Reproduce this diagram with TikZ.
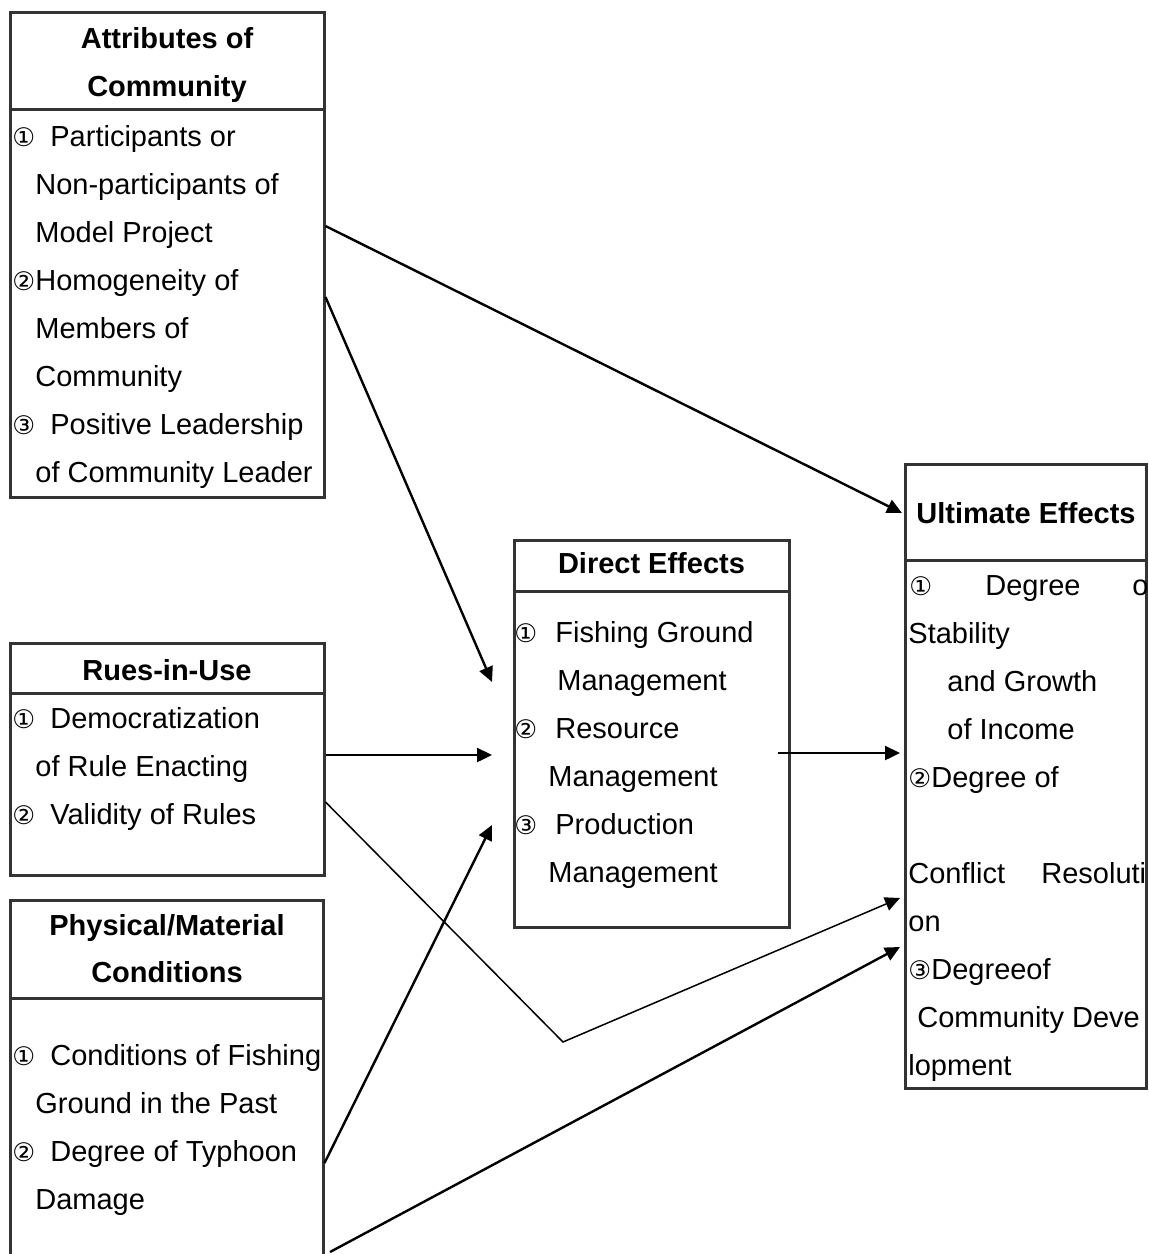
\documentclass[tikz,border=0pt]{standalone}
\usepackage{fontspec}
\setmainfont{Liberation Sans}
\newfontfamily\cf{DejaVu Sans}[Scale=0.88]
\usetikzlibrary{arrows.meta}
\tikzset{
  box/.style={draw=black!80,line width=1.5pt,rectangle,inner sep=0pt},
  rule/.style={draw=black!80,line width=1.5pt},
  head/.style={font=\fontsize{14.5}{24}\selectfont\bfseries,anchor=base,inner sep=0pt},
  item/.style={anchor=base west,inner sep=0pt},
  link/.style={-{Triangle[length=7.5pt,width=7pt]},line width=1.2pt},
  thinlink/.style={link,line width=0.75pt}
}

\begin{document}
\begin{tikzpicture}[x=0.5pt,y=-0.5pt,font=\fontsize{14.5}{24}\selectfont]
\clip (0,0) rectangle (1149,1254);

% boxes
\node (attr) [box,minimum width=157pt,minimum height=242.5pt] at (167,254.5) {};
\node (rules) [box,minimum width=157pt,minimum height=116pt] at (167,759) {};
\node (phys) [box,minimum width=156.5pt,minimum height=185pt] at (166.5,1085) {};
\node (direct) [box,minimum width=137.5pt,minimum height=193.5pt] at (651.5,733.5) {};
\node (ult) [box,minimum width=120.5pt,minimum height=312pt] at (1025.5,776) {};

\draw [rule] (attr.west |- 0,109) -- (attr.east |- 0,109);
\draw [rule] (rules.west |- 0,693) -- (rules.east |- 0,693);
\draw [rule] (phys.west |- 0,998) -- (phys.east |- 0,998);
\draw [rule] (direct.west |- 0,591) -- (direct.east |- 0,591);
\draw [rule] (ult.west |- 0,560) -- (ult.east |- 0,560);

% headers
\node (attr-h1) [head] at (167,48) {Attributes of};
\node (attr-h2) [head] at (167,96) {Community};
\node (rules-h) [head] at (167,680) {Rues-in-Use};
\node (phys-h1) [head] at (167,935) {Physical/Material};
\node (phys-h2) [head] at (167,982) {Conditions};
\node (direct-h) [head] at (651.5,573) {Direct Effects};
\node (ult-h) [head] at (1026,523) {Ultimate Effects};

% attributes of community
\foreach \x/\y/\t [count=\i] in {12/146/{\cf ①},50/146/Participants or,
    35/194/Non-participants of,35/242/Model Project,
    12/290/{\cf ②},35/290/Homogeneity of,35/338/Members of,35/386/Community,
    12/434/{\cf ③},50/434/Positive Leadership,35/482/of Community Leader}
  \node (attr\i) [item] at (\x,\y) {\t};

% rules-in-use
\foreach \x/\y/\t [count=\i] in {12/728/{\cf ①},50/728/Democratization,
    35/776/of Rule Enacting,12/824/{\cf ②},50/824/Validity of Rules}
  \node (rules\i) [item] at (\x,\y) {\t};

% physical/material conditions
\foreach \x/\y/\t [count=\i] in {12/1065/{\cf ①},50/1065/Conditions of Fishing,
    35/1113/Ground in the Past,12/1161/{\cf ②},50/1161/Degree of Typhoon,
    35/1209/Damage}
  \node (phys\i) [item] at (\x,\y) {\t};

% direct effects
\foreach \x/\y/\t [count=\i] in {514/642/{\cf ①},555/642/Fishing Ground,
    557/690/Management,514/738/{\cf ②},555/738/Resource,548/786/Management,
    514/834/{\cf ③},555/834/Production,548/882/Management}
  \node (direct\i) [item] at (\x,\y) {\t};

% ultimate effects
\begin{scope}
\clip (ult.south west) rectangle (ult.north east);
\foreach \x/\y/\t [count=\i] in {909/595/{\cf ①},985/595/Degree,1132/595/o,
    908/643/Stability,947/691/and Growth,947/739/of Income,
    908/787/{\cf ②},931/787/Degree of,908/883/Conflict,1041/883/Resoluti,
    908/931/on,908/979/{\cf ③},931/979/Degreeof,917/1027/Community Deve,
    908/1075/lopment}
  \node (ult\i) [item] at (\x,\y) {\t};
\end{scope}

% ports
\coordinate (a-out1) at (attr.east |- 0,226);
\coordinate (a-out2) at (attr.east |- 0,297);
\coordinate (r-out1) at (rules.east |- 0,755);
\coordinate (r-out2) at (rules.east |- 0,802);
\coordinate (r-bend) at (563,1042);
\coordinate (p-out1) at (phys.east |- 0,1163);
\coordinate (p-out2) at (330,1252);
\coordinate (d-out) at (778,753);
\coordinate (d-in1) at (492,682);
\coordinate (d-in2) at (492,755);
\coordinate (d-in3) at (492,825);
\coordinate (u-in1) at (902,513);
\coordinate (u-in2) at (900,753);
\coordinate (u-in3) at (900,898);
\coordinate (u-in4) at (900,947);

% arrows
\draw [link] (a-out1) -- (u-in1);
\draw [link] (a-out2) -- (d-in1);
\draw [link] (r-out1) -- (d-in2);
\draw [thinlink] (r-out2) -- (r-bend) -- (u-in3);
\draw [link] (p-out1) -- (d-in3);
\draw [link] (p-out2) -- (u-in4);
\draw [link] (d-out) -- (u-in2);
\end{tikzpicture}
\end{document}
